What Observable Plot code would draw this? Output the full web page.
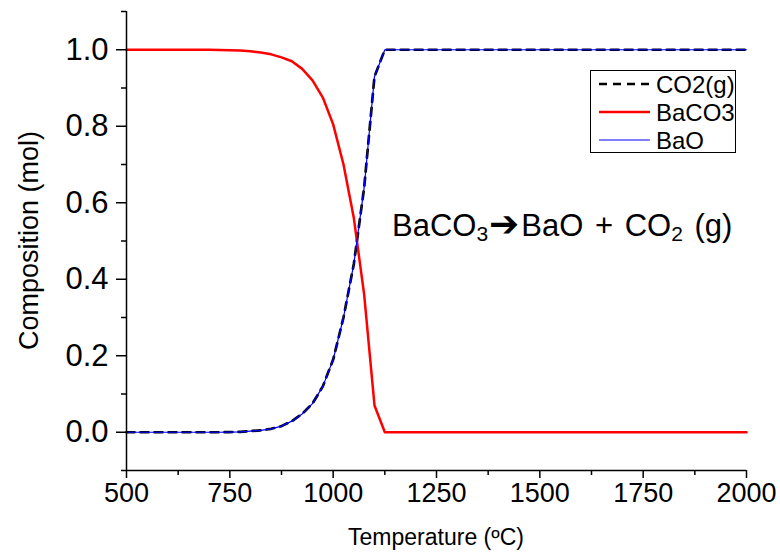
<!DOCTYPE html>
<html><head><meta charset="utf-8">
<script src="https://cdn.jsdelivr.net/npm/d3@7"></script>
<script src="https://cdn.jsdelivr.net/npm/@observablehq/plot@0.6"></script>
<style>
body{margin:0;background:#fff}
#chart{position:relative;width:780px;height:558px}
</style>
</head><body><div id="chart"></div>
<script>
const temperature = [500,525,550,575,600,625,650,675,700,725,750,775,800,825,850,875,900,925,950,975,1000,1025,1050,1075,1100,1125,1150,1200,1300,1400,1500,1600,1700,1800,1900,2000];
const co2 = [0,0,0,0,0,0,0,0,0,0,0.0005,0.001,0.003,0.005,0.009,0.016,0.029,0.048,0.075,0.12,0.19,0.30,0.44,0.64,0.93,1,1,1,1,1,1,1,1,1,1,1];
const baco3 = [1,1,1,1,1,1,1,1,1,0.9995,0.999,0.998,0.996,0.993,0.988,0.98,0.97,0.95,0.92,0.875,0.805,0.70,0.56,0.36,0.07,0,0,0,0,0,0,0,0,0,0,0];
const bao = [0,0,0,0,0,0,0,0,0,0,0.0005,0.001,0.003,0.005,0.009,0.016,0.029,0.048,0.075,0.12,0.19,0.30,0.44,0.64,0.93,1,1,1,1,1,1,1,1,1,1,1];
const xTicks = [500,750,1000,1250,1500,1750,2000];
const xMinorTicks = [625,875,1125,1375,1625,1875];
const yTicks = [0,0.2,0.4,0.6,0.8,1.0];
const yMinorTicks = [-0.1,0.1,0.3,0.5,0.7,0.9,1.1];
const seriesNames = ["CO2(g)","BaCO3","BaO"];
const seriesColors = ["#000000","#ff0000","#0000ff"];
const xLabel = "Temperature (ºC)";
const yLabel = "Composition (mol)";

const rows = s => temperature.map((t,i)=>({t, v:s[i]}));
const NARROW = '"Liberation Sans Narrow","Arial Narrow","Liberation Sans",Arial,sans-serif';
const NORMAL = '"Liberation Sans",Arial,sans-serif';

const plot = Plot.plot({
  width:780, height:558,
  marginLeft:126, marginRight:34, marginTop:11, marginBottom:88,
  style:{fontFamily:NARROW, background:"#fff", color:"#000", overflow:"visible"},
  x:{domain:[500,2000]},
  y:{domain:[-0.1,1.1]},
  marks:[
    Plot.line(rows(co2), {x:"t", y:"v", stroke:seriesColors[0], strokeWidth:2.7, strokeDasharray:"8,6"}),
    Plot.line(rows(baco3), {x:"t", y:"v", stroke:seriesColors[1], strokeWidth:2.5}),
    Plot.line(rows(bao), {x:"t", y:"v", stroke:seriesColors[2], strokeWidth:1.2}),
    Plot.axisY(yTicks, {tickSize:10, tickPadding:8, tickFormat:d3.format(".1f"), fontSize:31, strokeWidth:1.5, label:null}),
    Plot.axisY(yMinorTicks, {tickSize:5, tickFormat:()=>"", strokeWidth:1.5, label:null}),
    Plot.axisX(xTicks, {tickSize:8, tickPadding:4, tickFormat:d=>String(d), fontSize:27, strokeWidth:1.5, label:null}),
    Plot.axisX(xMinorTicks, {tickSize:5, tickFormat:()=>"", strokeWidth:1.5, label:null}),
    Plot.ruleX([500], {y1:-0.1, y2:1.1, stroke:"#000", strokeWidth:1.5}),
    Plot.ruleY([-0.1], {x1:500, x2:2000, stroke:"#000", strokeWidth:1.5})
  ]
});
document.getElementById("chart").appendChild(plot);

const sx = plot.scale("x"), sy = plot.scale("y");
const svg = d3.select(plot);
const x0 = sx.apply(500), x1 = sx.apply(2000);
const yTop = sy.apply(1.1), yBot = sy.apply(-0.1);

// axis titles
svg.append("text")
  .attr("transform", `translate(29,${(yTop+yBot)/2}) rotate(-90)`)
  .attr("text-anchor","middle").attr("dominant-baseline","central")
  .style("font-family", NORMAL).style("font-size","27px").attr("fill","#000")
  .text(yLabel);
svg.append("text")
  .attr("x", (x0+x1)/2).attr("y", 545)
  .attr("text-anchor","middle")
  .style("font-family", NARROW).style("font-size","23px").attr("fill","#000")
  .text(xLabel);

// annotation
const ann = svg.append("text")
  .attr("x", 392).attr("y", 236).attr("text-anchor","start")
  .style("font-family", NORMAL).style("font-size","31px").style("word-spacing","3px").attr("fill","#000");
ann.append("tspan").text("BaCO");
ann.append("tspan").attr("dy", 5).style("font-size","21px").text("3");
ann.append("tspan").attr("dy", -5).attr("dx", 1).style("font-family",'"DejaVu Sans",sans-serif').style("font-size","36px").style("font-weight","bold").text("➔");
ann.append("tspan").attr("dx", 2).text("BaO + CO");
ann.append("tspan").attr("dy", 5).style("font-size","21px").text("2");
ann.append("tspan").attr("dy", -5).text(" (g)");

// legend
const lg = svg.append("g");
lg.append("rect").attr("x",590.5).attr("y",70.5).attr("width",145).attr("height",82)
  .attr("fill","#fff").attr("stroke","#000").attr("stroke-width",1);
const rowY = [84, 112, 140];
const widths = [2.7, 2.5, 1.2];
seriesNames.forEach((name,i)=>{
  const l = lg.append("line").attr("x1",599).attr("x2",650).attr("y1",rowY[i]).attr("y2",rowY[i])
    .attr("stroke",seriesColors[i]).attr("stroke-width",widths[i]);
  if (i===0) l.attr("stroke-dasharray","8,6");
  lg.append("text").attr("x",656).attr("y",rowY[i]).attr("dominant-baseline","central")
    .attr("text-anchor","start")
    .style("font-family",NARROW).style("font-size","24px").attr("fill","#000").text(name);
});
</script>
</body></html>
